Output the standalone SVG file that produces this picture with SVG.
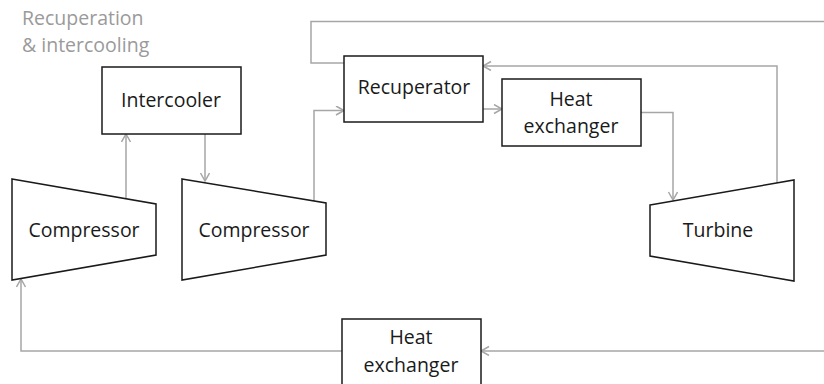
<svg xmlns="http://www.w3.org/2000/svg" width="824" height="384" viewBox="0 0 824 384">
<style>
.box{fill:#fff;stroke:#1a1a1a;stroke-width:1.5}
.lbl{font-family:"Open Sans","Liberation Sans",sans-serif;font-size:19.5px;fill:#1a1a1a;text-anchor:middle}
.hdr{font-family:"Open Sans","Liberation Sans",sans-serif;font-size:19.5px;fill:#9a9a9a}
.con{fill:none;stroke:#a6a6a6;stroke-width:1.5}
</style>
<defs>
<marker id="arr" markerUnits="userSpaceOnUse" markerWidth="12" markerHeight="12" refX="9" refY="5" orient="auto">
<path d="M1,0.5 L9,5 L1,9.5" fill="none" stroke="#a6a6a6" stroke-width="1.5"/>
</marker>
</defs>
<rect width="824" height="384" fill="#fff"/>
<g id="header">
<text class="hdr" x="22" y="25">Recuperation</text>
<text class="hdr" x="22" y="52">&amp; intercooling</text>
</g>
<g id="connectors">
<path class="con" d="M126,198 V134" marker-end="url(#arr)"/>
<path class="con" d="M205,134 V181" marker-end="url(#arr)"/>
<path class="con" d="M314,201 V110.5 H344" marker-end="url(#arr)"/>
<path class="con" d="M483,109 H502" marker-end="url(#arr)"/>
<path class="con" d="M641,112.5 H673 V200" marker-end="url(#arr)"/>
<path class="con" d="M777,183 V66 H483" marker-end="url(#arr)"/>
<path class="con" d="M344,63 H311 V21.5 H840 V351 H481" marker-end="url(#arr)"/>
<path class="con" d="M342,351 H21 V279" marker-end="url(#arr)"/>
</g>
<g id="intercooler">
<rect class="box" x="102" y="67" width="139" height="67"/>
<text class="lbl" x="171" y="107">Intercooler</text>
</g>
<g id="recuperator">
<rect class="box" x="344" y="56" width="139" height="66"/>
<text class="lbl" x="414" y="94">Recuperator</text>
</g>
<g id="heat-exchanger-top">
<rect class="box" x="502" y="79" width="139" height="67"/>
<text class="lbl" x="571" y="106">Heat</text>
<text class="lbl" x="571" y="133">exchanger</text>
</g>
<g id="compressor-1">
<path class="box" d="M12,179 L156,204 L156,255 L12,280 Z"/>
<text class="lbl" x="84" y="237">Compressor</text>
</g>
<g id="compressor-2">
<path class="box" d="M182,179 L326,203 L326,255 L182,280 Z"/>
<text class="lbl" x="254" y="237">Compressor</text>
</g>
<g id="turbine">
<path class="box" d="M650,205 L794,180 L794,281 L650,256 Z"/>
<text class="lbl" x="718" y="237">Turbine</text>
</g>
<g id="heat-exchanger-bottom">
<rect class="box" x="342" y="319" width="139" height="75"/>
<text class="lbl" x="411" y="344">Heat</text>
<text class="lbl" x="411" y="372">exchanger</text>
</g>
</svg>
